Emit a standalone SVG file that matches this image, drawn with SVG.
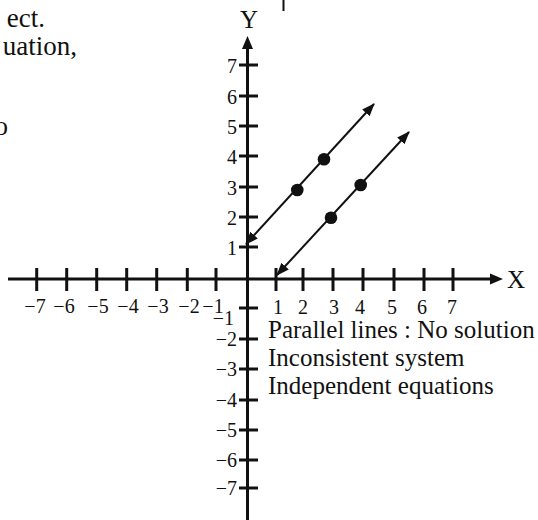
<svg xmlns="http://www.w3.org/2000/svg" width="538" height="520" viewBox="0 0 538 520">
<style>
text{font-family:"Liberation Serif","Times New Roman",serif;fill:#111}
.body{font-size:25px}
.num{font-size:20px}
.ax{stroke:#111;stroke-width:3;fill:none}
.tk{stroke:#111;stroke-width:3}
.ln{stroke:#111;stroke-width:2;fill:none;marker-start:url(#ah);marker-end:url(#ah)}
.dot{fill:#111}
.yl{text-anchor:end}
.xl{text-anchor:middle}
</style>
<defs>
<marker id="ah" viewBox="0 0 13 10" refX="12" refY="5" markerWidth="13" markerHeight="10" markerUnits="userSpaceOnUse" orient="auto-start-reverse">
<path d="M0,0 L13,5 L0,10 z" fill="#111"/>
</marker>
</defs>
<rect width="538" height="520" fill="#fff"/>
<g id="page-text">
<text x="45" y="27" text-anchor="end" font-size="27">ect.</text>
<text x="77" y="55" text-anchor="end" font-size="27">uation,</text>
<text x="8" y="135" text-anchor="end" font-size="27">o</text>
</g>
<line x1="283.5" y1="0" x2="283.5" y2="11" stroke="#111" stroke-width="2"/>
<g id="y-axis">
<line class="ax" x1="247.5" y1="46" x2="247.5" y2="520"/>
<polygon points="247.5,36 242,49 253,49" fill="#111"/>
<text class="body" x="249" y="28" text-anchor="middle">Y</text>
<g class="tk">
<line x1="239" y1="65" x2="258" y2="65"/>
<line x1="239" y1="96" x2="258" y2="96"/>
<line x1="239" y1="126" x2="258" y2="126"/>
<line x1="239" y1="156" x2="258" y2="156"/>
<line x1="239" y1="187" x2="258" y2="187"/>
<line x1="239" y1="217" x2="258" y2="217"/>
<line x1="239" y1="247" x2="258" y2="247"/>
<line x1="239" y1="308" x2="258" y2="308"/>
<line x1="239" y1="339" x2="258" y2="339"/>
<line x1="239" y1="369" x2="258" y2="369"/>
<line x1="239" y1="400" x2="258" y2="400"/>
<line x1="239" y1="430" x2="258" y2="430"/>
<line x1="239" y1="460" x2="258" y2="460"/>
<line x1="239" y1="488" x2="258" y2="488"/>
</g>
<g class="num yl">
<text x="237" y="73">7</text>
<text x="237" y="104">6</text>
<text x="237" y="134">5</text>
<text x="237" y="164">4</text>
<text x="237" y="195">3</text>
<text x="237" y="225">2</text>
<text x="237" y="255">1</text>
<text x="234" y="325">−1</text>
<text x="237" y="346">−2</text>
<text x="237" y="376">−3</text>
<text x="237" y="407">−4</text>
<text x="237" y="437">−5</text>
<text x="237" y="467">−6</text>
<text x="237" y="495">−7</text>
</g>
</g>
<g id="x-axis">
<line class="ax" x1="8" y1="279" x2="493" y2="279"/>
<polygon points="503,279 490,273.5 490,284.5" fill="#111"/>
<text class="body" x="507" y="288">X</text>
<g class="tk">
<line x1="36.7" y1="268" x2="36.7" y2="291"/>
<line x1="66.7" y1="268" x2="66.7" y2="291"/>
<line x1="96.7" y1="268" x2="96.7" y2="291"/>
<line x1="126.7" y1="268" x2="126.7" y2="291"/>
<line x1="156.7" y1="268" x2="156.7" y2="291"/>
<line x1="187.3" y1="268" x2="187.3" y2="291"/>
<line x1="216" y1="268" x2="216" y2="291"/>
<line x1="276" y1="268" x2="276" y2="291"/>
<line x1="303" y1="268" x2="303" y2="291"/>
<line x1="333" y1="268" x2="333" y2="291"/>
<line x1="363" y1="268" x2="363" y2="291"/>
<line x1="394" y1="268" x2="394" y2="291"/>
<line x1="424" y1="268" x2="424" y2="291"/>
<line x1="453" y1="268" x2="453" y2="291"/>
</g>
<g class="num xl">
<text x="35" y="313">−7</text>
<text x="64" y="313">−6</text>
<text x="98" y="313">−5</text>
<text x="128" y="313">−4</text>
<text x="158" y="313">−3</text>
<text x="189" y="313">−2</text>
<text x="213" y="313">−1</text>
<text x="278" y="314">1</text>
<text x="303" y="314">2</text>
<text x="334" y="314">3</text>
<text x="360" y="314">4</text>
<text x="392" y="314">5</text>
<text x="422" y="314">6</text>
<text x="452" y="314">7</text>
</g>
</g>
<g id="connectors">
<line id="line-a" class="ln" x1="246" y1="244" x2="374" y2="104"/>
<line id="line-b" class="ln" x1="277" y1="275" x2="409" y2="132"/>
</g>
<g id="points">
<circle class="dot" cx="297.3" cy="190" r="6.3"/>
<circle class="dot" cx="324" cy="159.3" r="6.3"/>
<circle class="dot" cx="331" cy="217.7" r="6.3"/>
<circle class="dot" cx="360.7" cy="185" r="6.3"/>
</g>
<g id="caption" class="body">
<text x="268" y="338">Parallel lines : No solution</text>
<text x="268" y="366">Inconsistent system</text>
<text x="268" y="394">Independent equations</text>
</g>
</svg>
